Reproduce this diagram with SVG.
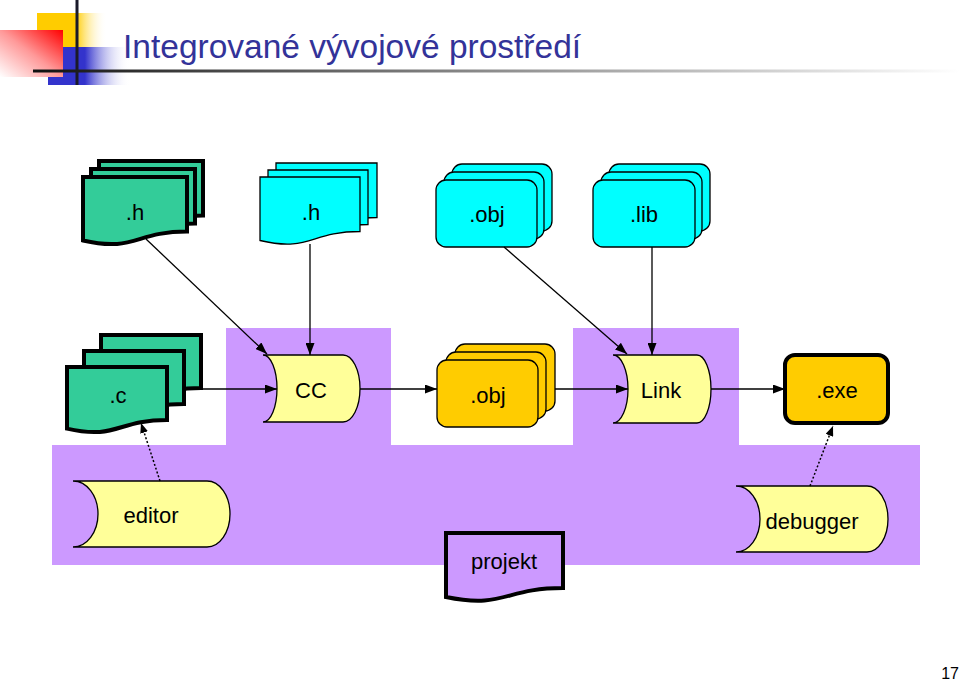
<svg xmlns="http://www.w3.org/2000/svg" width="960" height="682" viewBox="0 0 960 682">
<defs>
  <linearGradient id="gYellow" x1="0" y1="0" x2="1" y2="0">
    <stop offset="0" stop-color="#FFCC00"/>
    <stop offset="0.55" stop-color="#FFCC00"/>
    <stop offset="1" stop-color="#FFFFFF" stop-opacity="0"/>
  </linearGradient>
  <linearGradient id="gRed" x1="1" y1="0" x2="0" y2="1">
    <stop offset="0" stop-color="#FF0000"/>
    <stop offset="0.5" stop-color="#FF9999"/>
    <stop offset="1" stop-color="#FFFFFF"/>
  </linearGradient>
  <linearGradient id="gBlue" x1="0" y1="0" x2="1" y2="0">
    <stop offset="0" stop-color="#3333CC"/>
    <stop offset="0.45" stop-color="#3333CC"/>
    <stop offset="1" stop-color="#FFFFFF" stop-opacity="0"/>
  </linearGradient>
  <linearGradient id="gLine" x1="0" y1="0" x2="1" y2="0">
    <stop offset="0" stop-color="#111111"/>
    <stop offset="0.25" stop-color="#555555"/>
    <stop offset="0.7" stop-color="#BBBBBB"/>
    <stop offset="1" stop-color="#FFFFFF"/>
  </linearGradient>
  <marker id="arr" markerUnits="userSpaceOnUse" markerWidth="12" markerHeight="9" refX="12" refY="4.5" orient="auto">
    <path d="M0,0 L12,4.5 L0,9 Z" fill="#000"/>
  </marker>
  <marker id="arrS" markerUnits="userSpaceOnUse" markerWidth="10" markerHeight="8" refX="10" refY="4" orient="auto">
    <path d="M0,0 L10,4 L0,8 Z" fill="#000"/>
  </marker>
</defs>
<style>
  text { font-family: "Liberation Sans", Arial, sans-serif; fill: #000; }
  .lbl { font-size: 22px; text-anchor: middle; }
  .title { font-size: 33.5px; fill: #333399; }
  .thin { stroke: #000; stroke-width: 1.3; }
  .thick { stroke: #000; stroke-width: 4; stroke-linejoin: miter; }
  .green { fill: #33CC99; }
  .cyan { fill: #00FFFF; }
  .orange { fill: #FFCC00; }
  .yel { fill: #FFFF99; }
  .purple { fill: #CC99FF; }
  .conn { stroke: #000; stroke-width: 1.3; fill: none; marker-end: url(#arr); }
  .dot { stroke: #000; stroke-width: 1.5; fill: none; stroke-dasharray: 2 2; marker-end: url(#arrS); }
</style>

<!-- Title logo -->
<g id="logo">
  <rect x="37" y="13" width="70" height="34" fill="url(#gYellow)"/>
  <rect x="48" y="47" width="82" height="38" fill="url(#gBlue)"/>
  <rect x="0" y="30" width="63" height="47" fill="url(#gRed)"/>
  <rect x="75.5" y="0" width="3" height="85" fill="#1a1a2a"/>
  <rect x="33" y="69.5" width="927" height="3" fill="url(#gLine)"/>
</g>
<text class="title" x="123" y="58">Integrované vývojové prostředí</text>

<!-- Purple background -->
<path id="background" class="purple" d="M52,445 H226 V328 H391 V445 H573 V328 H739 V445 H920 V565 H52 Z"/>

<!-- Top row -->
<g id="h_green">
  <path class="green thick" d="M99,161 H203 V215.5 C151,215.5 151,236.3 99,224.5 Z"/>
  <path class="green thick" d="M91,169 H195 V223.5 C143,223.5 143,244.3 91,232.5 Z"/>
  <path class="green thick" d="M83,177 H187 V231.5 C135,231.5 135,252.3 83,240.5 Z"/>
  <text class="lbl" x="135" y="220">.h</text>
</g>
<g id="h_cyan">
  <path class="cyan thin" d="M276,163 H377 V217.5 C326.5,217.5 326.5,238.3 276,226.5 Z"/>
  <path class="cyan thin" d="M268,170 H368 V224.5 C318,224.5 318,245.3 268,233.5 Z"/>
  <path class="cyan thin" d="M260,177 H360 V231.5 C310,231.5 310,252.3 260,240.5 Z"/>
  <text class="lbl" x="311" y="220">.h</text>
</g>
<g id="obj_cyan">
  <rect class="cyan thin" x="452" y="164" width="100" height="67" rx="10"/>
  <rect class="cyan thin" x="444" y="172" width="100" height="67" rx="10"/>
  <rect class="cyan thin" x="436" y="180" width="101" height="67" rx="10"/>
  <text class="lbl" x="487" y="222">.obj</text>
</g>
<g id="lib_cyan">
  <rect class="cyan thin" x="609" y="164" width="101" height="67" rx="10"/>
  <rect class="cyan thin" x="601" y="172" width="101" height="67" rx="10"/>
  <rect class="cyan thin" x="593" y="180" width="102" height="67" rx="10"/>
  <text class="lbl" x="644" y="222">.lib</text>
</g>

<!-- Middle row -->
<g id="c_green">
  <path class="green thick" d="M101,335 H201 V388 C151,388 151,408 101,396.6 Z"/>
  <path class="green thick" d="M84,351 H184 V404 C134,404 134,424 84,412.6 Z"/>
  <path class="green thick" d="M67,367 H167 V420 C117,420 117,440 67,428.6 Z"/>
  <text class="lbl" x="118" y="403">.c</text>
</g>
<g id="cc">
  <path class="yel thin" d="M263,355 H343 A17,33.5 0 0 1 343,422 H263 A14,33.5 0 0 0 263,355 Z"/>
  <text class="lbl" x="311" y="398">CC</text>
</g>
<g id="obj_orange">
  <rect class="orange thin" x="455" y="344" width="100" height="67" rx="10"/>
  <rect class="orange thin" x="446" y="352" width="100" height="67" rx="10"/>
  <rect class="orange thin" x="437" y="360" width="101" height="67" rx="10"/>
  <text class="lbl" x="488" y="403">.obj</text>
</g>
<g id="link">
  <path class="yel thin" d="M613,355 H697 A14,34 0 0 1 697,423 H613 A15,34 0 0 0 613,355 Z"/>
  <text class="lbl" x="661" y="398">Link</text>
</g>
<g id="exe">
  <rect class="orange thick" x="785" y="355" width="103" height="68" rx="10"/>
  <text class="lbl" x="837" y="398">.exe</text>
</g>

<!-- Bottom row -->
<g id="editor">
  <path class="yel thin" d="M73,481 H207 A23,33 0 0 1 207,547 H73 A25,33 0 0 0 73,481 Z"/>
  <text class="lbl" x="151" y="523">editor</text>
</g>
<g id="debugger">
  <path class="yel thin" d="M736,486 H867 A21,33 0 0 1 867,552 H736 A24,33 0 0 0 736,486 Z"/>
  <text class="lbl" x="812" y="529">debugger</text>
</g>
<g id="projekt">
  <path class="purple thick" d="M446,533 H563 V588 C504.5,588 504.5,609 446,597 Z"/>
  <text class="lbl" x="504" y="569">projekt</text>
</g>

<!-- Connectors -->
<g id="connectors">
  <line class="conn" x1="146" y1="239" x2="267" y2="354"/>
  <line class="conn" x1="310" y1="244" x2="310" y2="355"/>
  <line class="conn" x1="504" y1="247" x2="627" y2="354"/>
  <line class="conn" x1="652" y1="247" x2="652" y2="355"/>
  <line class="conn" x1="201" y1="389" x2="277" y2="389"/>
  <line class="conn" x1="360" y1="389" x2="437" y2="389"/>
  <line class="conn" x1="555" y1="389" x2="628" y2="389"/>
  <line class="conn" x1="711" y1="389" x2="785" y2="389"/>
  <line class="dot" x1="160" y1="481" x2="141" y2="423"/>
  <line class="dot" x1="810" y1="486" x2="833" y2="426"/>
</g>

<text x="959" y="679" font-size="16" text-anchor="end">17</text>
</svg>
